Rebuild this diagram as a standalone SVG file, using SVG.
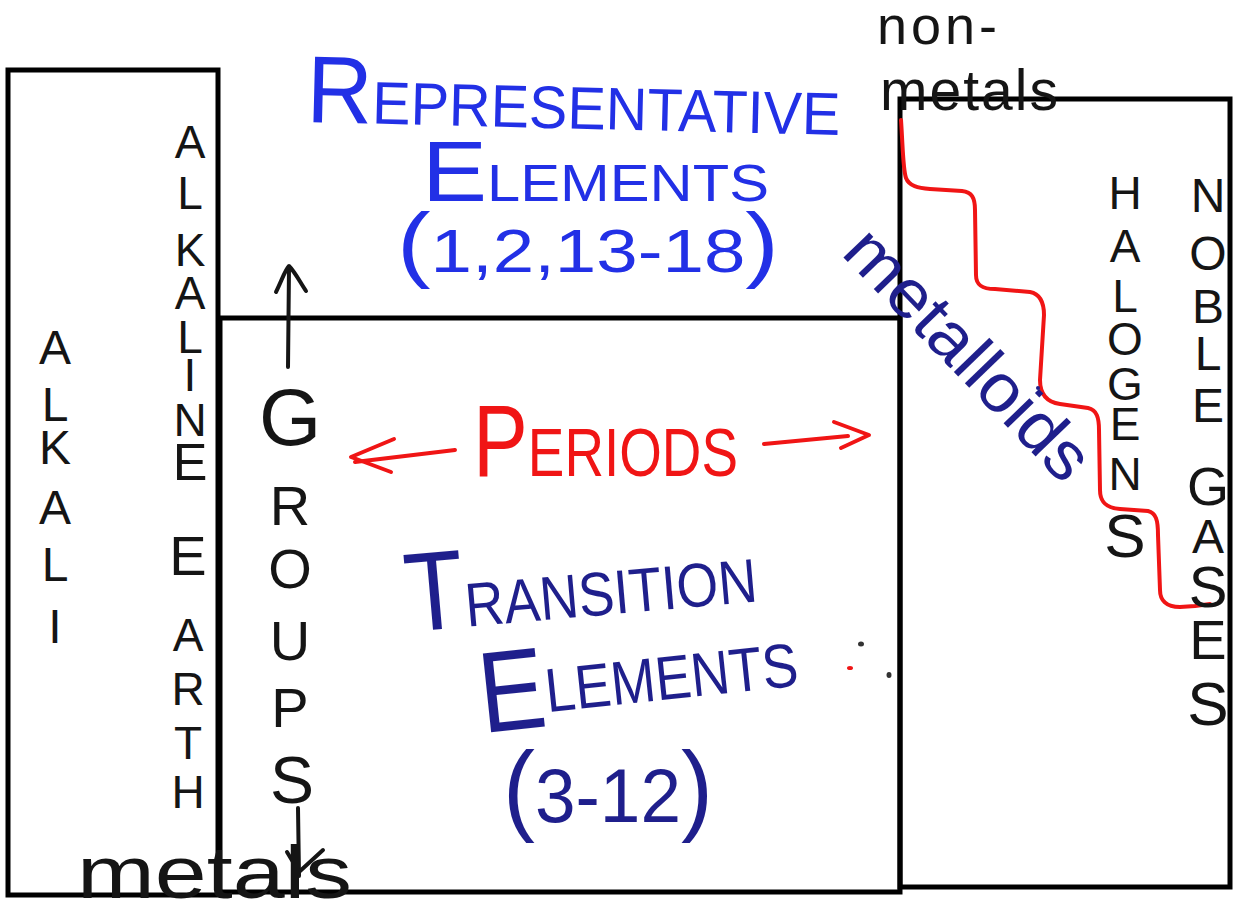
<svg xmlns="http://www.w3.org/2000/svg" width="1237" height="911" viewBox="0 0 1237 911">
<style>
.box{fill:none;stroke:#000;stroke-width:5}
.t{font-family:"Liberation Sans","DejaVu Sans",sans-serif;}
.blk{fill:#151515}
.blue{fill:#2230e6}
.navy{fill:#1f1f8c}
.red{fill:#f01515}
.ln{fill:none;stroke-linecap:round;stroke-linejoin:round;stroke-width:4}
.v{text-anchor:middle}
</style>
<rect width="1237" height="911" fill="#fff"/>
<g id="boxes">
<rect id="box-left" class="box" x="8" y="70" width="210" height="825"/>
<rect id="box-middle" class="box" x="220" y="318" width="680" height="574"/>
<rect id="box-right" class="box" x="900" y="99" width="330" height="788"/>
</g>
<g id="connectors">
<path id="metalloid-line" class="ln" stroke="#f01515" stroke-width="3" d="M901 120 C903 150 903 170 906 178 C909 186 918 188 930 189 L962 191 C972 192 975 198 975 210 L976 275 C976 285 982 289 995 289 L1030 292 C1040 294 1044 302 1044 315 L1040 380 C1040 393 1046 402 1060 404 L1088 408 C1097 410 1099 418 1099 430 L1100 490 C1100 502 1106 508 1120 509 L1148 511 C1156 513 1158 520 1158 535 L1160 590 C1160 600 1166 607 1180 607 L1195 606 L1210 604"/>
<g id="groups-arrows" stroke="#151515">
<path class="ln" d="M288 367 L289 268"/>
<path class="ln" d="M276 292 C282 280 285 270 289 266 C295 272 300 282 306 291"/>
<path class="ln" d="M298 808 L299 876"/>
<path class="ln" d="M287 852 L299 872 L323 850"/>
</g>
<g id="periods-arrows" stroke="#f01515">
<path class="ln" d="M455 450 L355 462"/>
<path class="ln" d="M394 439 L351 457 L391 472"/>
<path class="ln" d="M764 444 L848 436"/>
<path class="ln" d="M834 422 L869 435 L841 448"/>
</g>
</g>
<g id="representative" class="t blue">
<text transform="rotate(1.4 306 122)" x="306" y="122" textLength="534" lengthAdjust="spacingAndGlyphs"><tspan font-size="95">R</tspan><tspan font-size="60">EPRESENTATIVE</tspan></text>
<text x="422" y="201" textLength="347" lengthAdjust="spacingAndGlyphs"><tspan font-size="85">E</tspan><tspan font-size="52">LEMENTS</tspan></text>
<text x="397" y="272" textLength="382" lengthAdjust="spacingAndGlyphs" font-size="62"><tspan font-size="84">(</tspan>1,2,13-18<tspan font-size="84">)</tspan></text>
</g>
<g id="nonmetals" class="t blk">
<text x="877" y="44" font-size="54" textLength="120">non-</text>
<text x="880" y="110" font-size="57" textLength="178">metals</text>
</g>
<g id="metalloids" class="t navy">
<text transform="translate(840 254) rotate(46)" x="0" y="0" font-size="68" textLength="322" lengthAdjust="spacingAndGlyphs">metalloids</text>
</g>
<g id="halogens" class="t blk v" font-size="46">
<text x="1125" y="209">H</text><text x="1125" y="262">A</text><text x="1125" y="312">L</text><text x="1125" y="355">O</text><text x="1125" y="400">G</text><text x="1125" y="440">E</text><text x="1125" y="490">N</text><text x="1125" y="557" font-size="62">S</text>
</g>
<g id="noble-gases" class="t blk v" font-size="48">
<text x="1208" y="212">N</text><text x="1208" y="270">O</text><text x="1208" y="323">B</text><text x="1208" y="370">L</text><text x="1208" y="422">E</text><text x="1208" y="505" font-size="54">G</text><text x="1208" y="553">A</text><text x="1208" y="607" font-size="58">S</text><text x="1208" y="659" font-size="56">E</text><text x="1208" y="725" font-size="62">S</text>
</g>
<g id="alkaline-earth" class="t blk v" font-size="46">
<text x="190" y="158">A</text><text x="190" y="209">L</text><text x="190" y="266">K</text><text x="190" y="309">A</text><text x="190" y="353">L</text><text x="190" y="391">I</text><text x="190" y="436">N</text><text x="190" y="480" font-size="52">E</text>
<text x="188" y="575" font-size="56">E</text><text x="188" y="651">A</text><text x="188" y="705">R</text><text x="188" y="759">T</text><text x="188" y="808">H</text>
</g>
<g id="alkali" class="t blk v" font-size="48">
<text x="55" y="364">A</text><text x="55" y="421">L</text><text x="55" y="464">K</text><text x="55" y="524">A</text><text x="55" y="581">L</text><text x="55" y="643">I</text>
</g>
<g id="groups" class="t blk v" font-size="56">
<text x="290" y="445" font-size="80">G</text><text x="290" y="525">R</text><text x="290" y="588">O</text><text x="290" y="660">U</text><text x="290" y="727">P</text><text x="292" y="803" font-size="66">S</text>
</g>
<g id="periods" class="t red">
<text x="473" y="476" textLength="265" lengthAdjust="spacingAndGlyphs"><tspan font-size="102">P</tspan><tspan font-size="68">ERIODS</tspan></text>
</g>
<g id="transition" class="t navy">
<text transform="rotate(-5 408 632)" x="408" y="632" textLength="352" lengthAdjust="spacingAndGlyphs"><tspan font-size="112">T</tspan><tspan font-size="62">RANSITION</tspan></text>
<text transform="rotate(-6 483 733)" x="483" y="733" textLength="320" lengthAdjust="spacingAndGlyphs"><tspan font-size="115">E</tspan><tspan font-size="62" dy="-14">LEMENTS</tspan></text>
<text x="503" y="822" font-size="76" textLength="210" lengthAdjust="spacingAndGlyphs"><tspan font-size="100">(</tspan>3-12<tspan font-size="100">)</tspan></text>
</g>
<g id="metals" class="t blk">
<text x="77" y="898" font-size="75" textLength="275" lengthAdjust="spacingAndGlyphs">metals</text>
</g>
<g id="dots">
<ellipse cx="861" cy="644" rx="3" ry="2.5" fill="#333"/>
<ellipse cx="850" cy="668" rx="3" ry="2" fill="#f01515"/>
<ellipse cx="889" cy="675" rx="2.5" ry="3" fill="#333"/>
<circle cx="1038" cy="388" r="2" fill="#1f1f8c"/>
</g>
</svg>
